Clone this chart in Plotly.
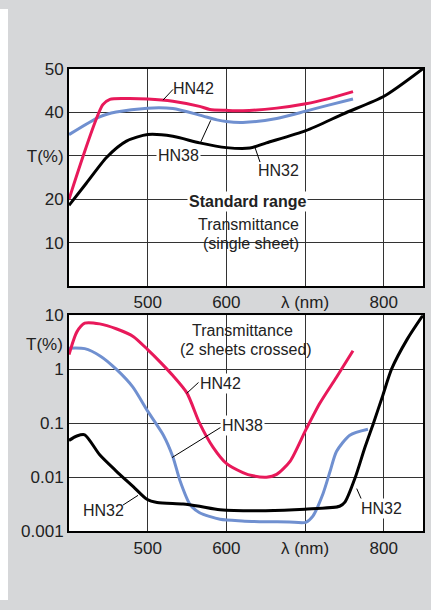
import math
import plotly.graph_objects as go

# ---------------- data ----------------
# Top panel: single sheet transmittance T(%)
top_hn42_x = [400, 443, 452, 470, 500, 532, 566, 579, 600, 621, 664, 701, 730, 761]
top_hn42_y = [20.0, 41.8, 43.0, 43.2, 43.1, 42.6, 41.4, 40.7, 40.5, 40.4, 41.0, 42.0, 43.2, 44.8]

top_hn38_x = [400, 439, 460, 500, 532, 566, 588, 600, 621, 664, 701, 730, 761]
top_hn38_y = [34.9, 39.0, 40.1, 41.0, 40.9, 39.4, 38.3, 37.9, 37.7, 38.6, 40.3, 41.7, 43.1]

top_hn32_x = [400, 422, 448, 473, 500, 532, 566, 600, 630, 651, 701, 749, 801, 850]
top_hn32_y = [18.6, 23.7, 29.7, 33.4, 34.9, 34.5, 33.0, 31.9, 31.8, 33.0, 35.8, 39.7, 43.8, 50.1]

# Bottom panel: two sheets crossed, T(%) log scale
bot_hn42_x = [400, 410, 420, 439, 460, 482, 500, 516, 532, 550, 566, 583, 600, 621, 634, 651, 664, 681, 701, 719, 740, 761]
bot_hn42_y = [1.86, 4.9, 7.1, 6.9, 5.6, 4.0, 2.3, 1.35, 0.76, 0.36, 0.10, 0.036, 0.018, 0.0122, 0.0106, 0.0100, 0.0113, 0.0196, 0.075, 0.236, 0.71, 2.2]

bot_hn38_x = [400, 420, 440, 460, 481, 500, 520, 532, 541, 554, 566, 592, 620, 650, 680, 701, 710, 723, 732, 740, 757, 780]
bot_hn38_y = [2.45, 2.4, 1.74, 1.0, 0.47, 0.167, 0.06, 0.024, 0.0087, 0.0031, 0.0022, 0.00166, 0.00155, 0.0015, 0.00148, 0.00146, 0.0019, 0.005, 0.013, 0.030, 0.06, 0.077]

bot_hn32_x = [400, 410, 420, 439, 460, 482, 499, 512, 545, 566, 592, 650, 700, 744, 751, 764, 776, 787, 799, 810, 830, 850]
bot_hn32_y = [0.048, 0.058, 0.061, 0.026, 0.013, 0.0066, 0.0039, 0.0034, 0.0032, 0.0029, 0.0025, 0.0024, 0.00256, 0.0029, 0.0035, 0.010, 0.035, 0.10, 0.33, 1.0, 3.6, 10]

x_tickvals = [500, 600, 700, 800]
x_ticktext = ["500", "600", "λ (nm)", "800"]
top_tickvals = [10, 20, 30, 40, 50]
top_ticktext = ["10", "20", "T(%)", "40", "50"]
bot_tickvals = [0.001, 0.01, 0.1, 1, 10]
bot_ticktext = ["0.001", "0.01", "0.1", "1", "10"]

# ---------------- layout geometry ----------------
W, H = 431, 610
X_DOM = [69 / W, 423 / W]
TOP_DOM = [1 - 286 / H, 1 - 62 / H]
BOT_DOM = [1 - 539 / H, 1 - 316 / H]
XR = [400, 850]

RED = "#e8195a"
BLUE = "#7090d0"
BLACK = "#000000"
FONT = "Liberation Sans"


def px2paper(px, py):
    return px / W, 1 - py / H


fig = go.Figure()
for xs, ys, c in [(top_hn38_x, top_hn38_y, BLUE), (top_hn42_x, top_hn42_y, RED), (top_hn32_x, top_hn32_y, BLACK)]:
    fig.add_trace(go.Scatter(x=xs, y=ys, mode="lines", line=dict(color=c, width=3, shape="spline", smoothing=0.7),
                             xaxis="x", yaxis="y", showlegend=False, hoverinfo="skip"))
for xs, ys, c in [(bot_hn38_x, bot_hn38_y, BLUE), (bot_hn42_x, bot_hn42_y, RED), (bot_hn32_x, bot_hn32_y, BLACK)]:
    fig.add_trace(go.Scatter(x=xs, y=ys, mode="lines", line=dict(color=c, width=3, shape="spline", smoothing=0.7),
                             xaxis="x2", yaxis="y2", showlegend=False, hoverinfo="skip"))

axis_common = dict(showline=True, mirror=True, linecolor="black", linewidth=2,
                   showgrid=True, gridcolor="#333333", gridwidth=1, zeroline=False,
                   ticks="", tickfont=dict(family=FONT, size=17, color="#222222"))

fig.update_layout(
    width=W, height=H,
    margin=dict(l=0, r=0, t=0, b=0),
    paper_bgcolor="#d6d7d9",
    plot_bgcolor="white",
    font=dict(family=FONT, size=16, color="#222222"),
    xaxis=dict(domain=X_DOM, range=XR, anchor="y", tickvals=x_tickvals, ticktext=x_ticktext, **axis_common),
    yaxis=dict(domain=TOP_DOM, range=[0, 50], anchor="x", tickvals=top_tickvals, ticktext=top_ticktext, **axis_common),
    xaxis2=dict(domain=X_DOM, range=XR, anchor="y2", tickvals=x_tickvals, ticktext=x_ticktext, **axis_common),
    yaxis2=dict(domain=BOT_DOM, type="log", range=[-3, 1], anchor="x2", tickvals=bot_tickvals, ticktext=bot_ticktext, **axis_common),
)

shapes = []
# white strip on left edge
shapes.append(dict(type="rect", xref="paper", yref="paper", x0=0, x1=8 / W, y0=0, y1=1,
                   fillcolor="white", line=dict(width=0), layer="below"))
# white boxes behind text blocks (between gridlines and traces)
for (x0, y0, x1, y1) in [(182, 186, 315, 253), (176, 319, 316, 363)]:
    a, b = px2paper(x0, y0)
    c, d = px2paper(x1, y1)
    shapes.append(dict(type="rect", xref="paper", yref="paper", x0=a, y0=d, x1=c, y1=b,
                       fillcolor="white", line=dict(width=0), layer="between"))
# leader lines
leaders = [((163, 94), (173, 83)), ((200, 139), (210.7, 115)), ((260, 158), (255, 143)),
           ((186.7, 396.7), (199, 385)), ((172, 463), (222, 431)), ((123, 512), (138, 502)),
           ((356.7, 495), (361.7, 506.7))]
for (p0, p1) in leaders:
    a, b = px2paper(*p0)
    c, d = px2paper(*p1)
    shapes.append(dict(type="line", xref="paper", yref="paper", x0=a, y0=b, x1=c, y1=d,
                       line=dict(color="black", width=1), layer="above"))
fig.update_layout(shapes=shapes)

labels = [
    ("HN42", 193, 82, None, False),
    ("HN38", 178.5, 151.7, "white", False),
    ("HN32", 278, 166.7, None, False),
    ("Standard range", 247, 199, "white", True),
    ("Transmittance", 248.5, 222.7, None, False),
    ("(single sheet)", 251, 241.7, None, False),
    ("Transmittance", 243, 332, None, False),
    ("(2 sheets crossed)", 246, 351.7, None, False),
    ("HN42", 220, 387, "white", False),
    ("HN38", 243, 430, "white", False),
    ("HN32", 103, 518, None, False),
    ("HN32", 381, 516, "white", False),
]
ann = []
for text, cx, cy, bg, bold in labels:
    x, y = px2paper(cx, cy)
    ann.append(dict(text=("<b>%s</b>" % text) if bold else text, x=x, y=y, xref="paper", yref="paper",
                    xanchor="center", yanchor="middle", showarrow=False,
                    font=dict(family=FONT, size=16, color="#222222"),
                    bgcolor=bg if bg else "rgba(0,0,0,0)", borderpad=1))
# T(%) label on bottom axis
x, y = px2paper(65, 346.7)
ann.append(dict(text="T(%)", x=x, y=y, xref="paper", yref="paper", xanchor="right", yanchor="middle",
                showarrow=False, font=dict(family=FONT, size=17, color="#222222")))
fig.update_layout(annotations=ann)

fig.write_html("out.html", config={"displayModeBar": False},
               post_script="document.body.style.margin='0px';document.body.style.overflow='hidden';")
